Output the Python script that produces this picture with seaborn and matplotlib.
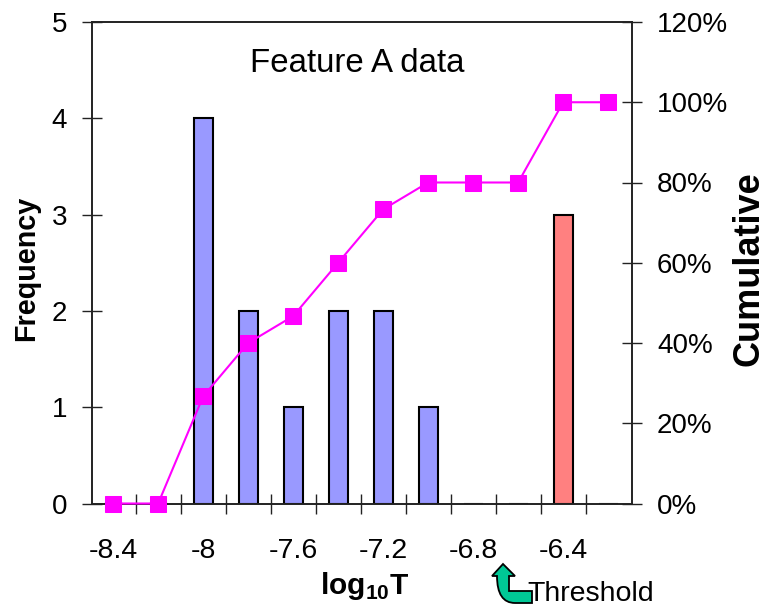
import numpy as np
import pandas as pd
import seaborn as sns
import matplotlib.pyplot as plt
from matplotlib.path import Path
from matplotlib.patches import PathPatch
from matplotlib.ticker import FixedLocator, PercentFormatter

# datos
bins = ['-8.4', '-8.2', '-8', '-7.8', '-7.6', '-7.4', '-7.2', '-7', '-6.8', '-6.6', '-6.4', '-6.2']
frequency = [0, 0, 4, 2, 1, 2, 2, 1, 0, 0, 3, 0]
cumulative = [0, 0, 26.7, 40, 46.7, 60, 73.3, 80, 80, 80, 100, 100]
group = ['below'] * 10 + ['above'] * 2
shown_labels = ['-8.4', '', '-8', '', '-7.6', '', '-7.2', '', '-6.8', '', '-6.4', '']
freq_ticks = [0, 1, 2, 3, 4, 5]
cum_ticks = [0, 20, 40, 60, 80, 100, 120]

W, H = 767, 608
sns.set_style('white')
plt.rcParams['font.family'] = ['Liberation Sans', 'DejaVu Sans']
plt.rcParams['text.color'] = 'black'
plt.rcParams['mathtext.fontset'] = 'custom'
plt.rcParams['mathtext.bf'] = 'Liberation Sans:bold'

df = pd.DataFrame({'bin': bins, 'freq': frequency, 'cum': cumulative, 'group': group})
pos = np.arange(len(bins))

fig = plt.figure(figsize=(W / 100, H / 100), dpi=100)
ax = fig.add_axes([92 / W, 1 - 503.5 / H, 540 / W, 481.5 / H])

sns.barplot(data=df, x='bin', y='freq', hue='group', order=bins, dodge=False,
            palette={'below': '#9999FF', 'above': '#FF8080'}, width=0.42, saturation=1,
            edgecolor='black', linewidth=1.5, legend=False, ax=ax)
ax.set_xlim(-0.47, 11.53)
ax.set_ylim(0, 5)
ax.set_xlabel('')
ax.set_ylabel('')
ax.set_yticks(freq_ticks)
ax.set_xticks(pos)
ax.set_xticklabels(shown_labels)
ax.xaxis.set_minor_locator(FixedLocator(pos[:-1] + 0.5))
ax.tick_params(axis='x', which='major', length=0, pad=24.5, labelsize=20.5, labelcolor='black')
ax.tick_params(axis='x', which='minor', bottom=True, direction='inout', length=14, width=1, color='#222222')
ax.tick_params(axis='y', left=True, direction='inout', length=14, width=1, color='#222222',
               pad=11, labelsize=20, labelcolor='black')

ax2 = ax.twinx()
sns.lineplot(x=pos, y=cumulative, color='#FF00FF', linewidth=1.5, marker='s', markersize=11,
             markeredgecolor='#FF00FF', clip_on=False, zorder=5, ax=ax2)
ax2.set_ylim(0, 120)
ax2.set_yticks(cum_ticks)
ax2.yaxis.set_major_formatter(PercentFormatter(decimals=0))
ax2.tick_params(axis='y', right=True, direction='inout', length=14, width=1, color='#222222',
                pad=11, labelsize=20, labelcolor='black')

for a in (ax, ax2):
    for s in a.spines.values():
        s.set_visible(True)
        s.set_color('#222222')
        s.set_linewidth(1.2)

# textos
fig.text(357 / W, 1 - 63.5 / H, 'Feature A data', ha='center', va='center', fontsize=23.8)
fig.text(26 / W, 1 - 268 / H, 'Frequency', rotation=90, ha='center', va='center',
         fontsize=20.7, fontweight='bold')
fig.text(749.5 / W, 1 - 269 / H, 'Cumulative', rotation=90, ha='center', va='center',
         fontsize=26, fontweight='bold')
fig.text(365 / W, 1 - 586 / H, r'log$_{\mathbf{10}}$T', ha='center', va='center',
         fontsize=21.5, fontweight='bold', math_fontfamily='custom')
fig.text(527 / W, 1 - 594 / H, 'Threshold', ha='left', va='center', fontsize=20.5)

# flecha curva del umbral
arrow_px = [(503, 564), (515, 576), (509, 576), (509, 591), (532, 591), (532, 603), (515, 603),
            (497, 603), (497, 576), (492, 576), (503, 564)]
codes = [Path.MOVETO, Path.LINETO, Path.LINETO, Path.LINETO, Path.LINETO, Path.LINETO, Path.LINETO,
         Path.CURVE3, Path.CURVE3, Path.LINETO, Path.CLOSEPOLY]
verts = [(x / W, 1 - y / H) for x, y in arrow_px]
fig.add_artist(PathPatch(Path(verts, codes), facecolor='#00C896', edgecolor='black', linewidth=1.3,
                         transform=fig.transFigure))

fig.savefig('out.png', dpi=100)
